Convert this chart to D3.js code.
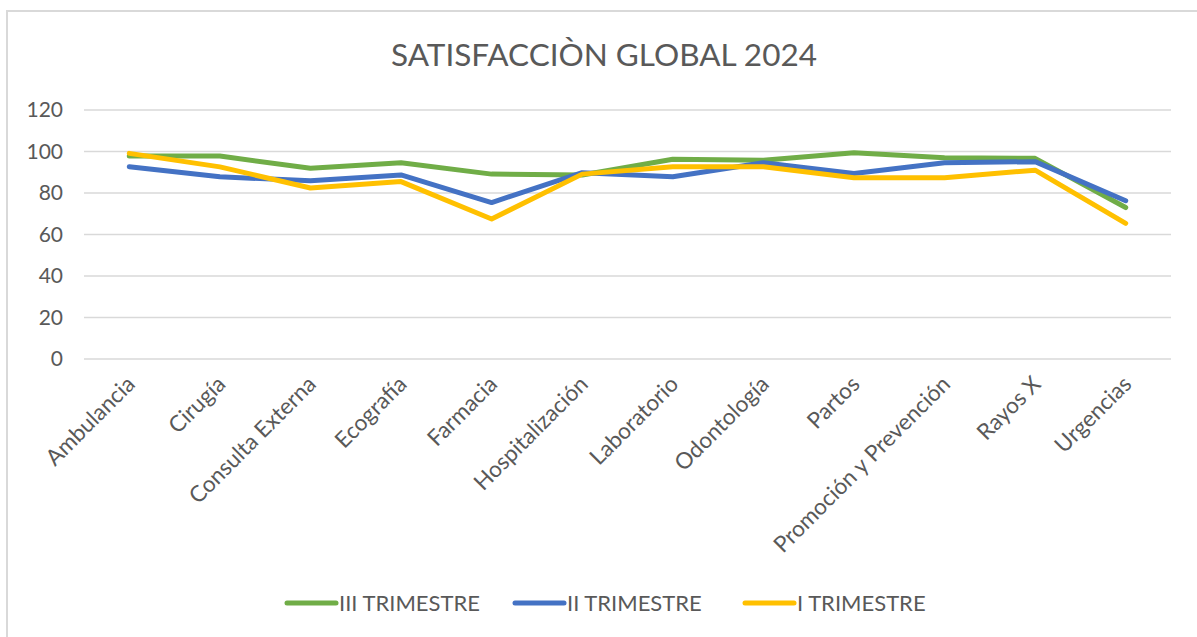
<!DOCTYPE html>
<html>
<head>
<meta charset="utf-8">
<script src="https://cdn.jsdelivr.net/npm/d3@7/dist/d3.min.js"></script>
<style>
  html, body { margin: 0; padding: 0; background: #fff; }
  svg { display: block; }
  text { font-family: Lato, "Open Sans", sans-serif; fill: #595959; }
</style>
</head>
<body>
<script>
const categories = ["Ambulancia", "Cirugía", "Consulta Externa", "Ecografía", "Farmacia", "Hospitalización", "Laboratorio", "Odontología", "Partos", "Promoción y Prevención", "Rayos X", "Urgencias"];
const seriesNames = ["III TRIMESTRE", "II TRIMESTRE", "I TRIMESTRE"];
const seriesColors = ["#70AD47", "#4472C4", "#FFC000"];
const trimestre3 = [97.8, 97.8, 91.9, 94.6, 89.1, 88.7, 96.3, 95.8, 99.4, 97.0, 96.7, 73.0];
const trimestre2 = [92.6, 87.8, 85.9, 88.7, 75.4, 89.8, 87.8, 94.6, 89.4, 94.6, 95.1, 76.3];
const trimestre1 = [99.1, 92.6, 82.4, 85.5, 67.5, 89.1, 92.6, 92.6, 87.4, 87.4, 91.0, 65.4];
const yTicks = [0, 20, 40, 60, 80, 100, 120];
const title = "SATISFACCIÒN GLOBAL 2024";

const W = 1197, H = 637;
const svg = d3.select("body").append("svg").attr("width", W).attr("height", H);

// chart border (top & left visible)
svg.append("rect").attr("x", 7).attr("y", 11).attr("width", W + 20).attr("height", H + 20)
  .attr("fill", "#fff").attr("stroke", "#d9d9d9").attr("stroke-width", 2);

svg.append("text").attr("x", 604).attr("y", 66).attr("text-anchor", "middle")
  .style("font-size", "31.5px").text(title);

const x = d3.scalePoint().domain(categories).range([84, 1171]).padding(0.5);
const y = d3.scaleLinear().domain([0, 120]).range([359, 110]);

// gridlines
svg.append("g").selectAll("line").data(yTicks).join("line")
  .attr("x1", 84).attr("x2", 1171)
  .attr("y1", d => y(d)).attr("y2", d => y(d))
  .attr("stroke", "#d9d9d9").attr("stroke-width", 1.5);

// y axis labels
const yAxis = d3.axisLeft(y).tickValues(yTicks).tickSize(0).tickPadding(0);
const yg = svg.append("g").attr("transform", "translate(63,0)").call(yAxis);
yg.select(".domain").remove();
yg.selectAll("text").style("font-size", "21px").attr("fill", "#595959").style("font-family", "Lato, sans-serif");

// x axis labels
const xAxis = d3.axisBottom(x).tickSize(0).tickPadding(0);
const xg = svg.append("g").attr("transform", "translate(0,380)").call(xAxis);
xg.select(".domain").remove();
xg.selectAll("text")
  .style("font-size", "22.5px").attr("fill", "#595959").style("font-family", "Lato, sans-serif")
  .attr("text-anchor", "end").attr("dy", "0.35em").attr("y", 0).attr("x", 0)
  .attr("transform", "translate(1,0) rotate(-45)");

const data = [trimestre3, trimestre2, trimestre1];
const line = d3.line().x((d, i) => x(categories[i])).y(d => y(d));
svg.append("g").selectAll("path").data(data).join("path")
  .attr("d", line).attr("fill", "none")
  .attr("stroke", (d, i) => seriesColors[i]).attr("stroke-width", 5)
  .attr("stroke-linejoin", "round").attr("stroke-linecap", "round");

// legend
const legX = [287, 515, 745];
const lg = svg.append("g").selectAll("g").data(seriesNames).join("g")
  .attr("transform", (d, i) => `translate(${legX[i]},603)`);
lg.append("line").attr("x1", 0).attr("x2", 49).attr("y1", 0).attr("y2", 0)
  .attr("stroke", (d, i) => seriesColors[i]).attr("stroke-width", 5).attr("stroke-linecap", "round");
lg.append("text").attr("x", 52).attr("y", 0).attr("dy", "0.35em")
  .style("font-size", "22px").text(d => d);
</script>
</body>
</html>
